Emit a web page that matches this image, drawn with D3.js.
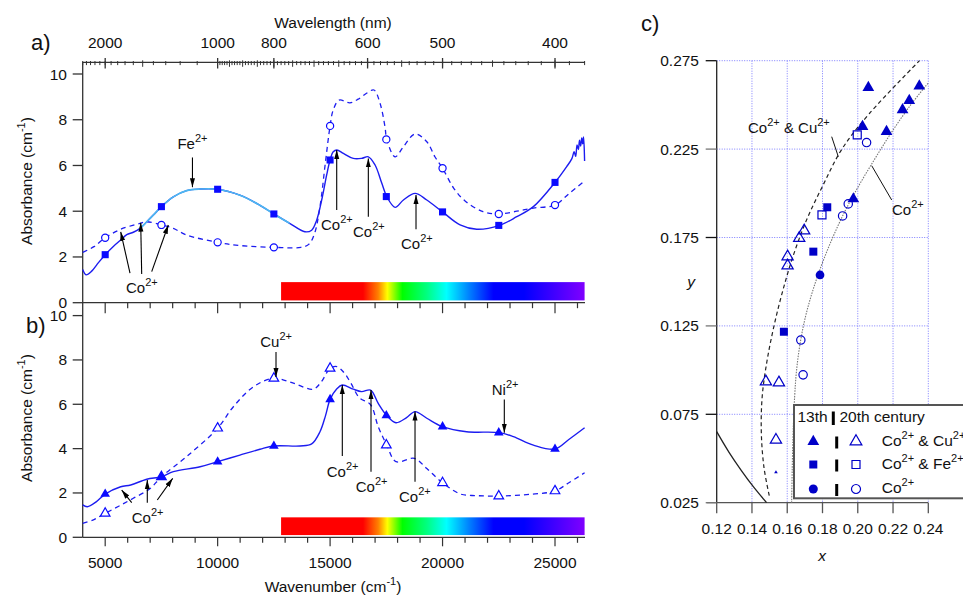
<!DOCTYPE html>
<html><head><meta charset="utf-8">
<script src="https://cdn.jsdelivr.net/npm/d3@7"></script>
<style>body{margin:0;background:#fff}svg{font-family:Arial,"Liberation Sans",sans-serif}</style>
</head><body><svg id="c" width="963" height="596"></svg>
<script>
// ---------------- DATA ----------------
// Panel a: 13th century (solid, filled squares)
const aSolidWn = [4000,4150,4400,4700,5000,5350,5690,5960,6250,6550,6850,7140,7500,8030,8620,9220,10000,10990,11880,12500,13220,13880,14180,14400,14650,14850,15000,15140,15300,15590,16030,16400,16700,17000,17300,17520,17890,18260,18780,19300,20000,20780,21520,22530,23300,24040,25000,25520,25750,25850,25920,25980,26040,26090,26140,26190,26230,26270,26316];
const aSolidA  = [1.45,1.22,1.38,1.75,2.10,2.45,2.74,2.98,3.08,3.25,3.54,3.83,4.20,4.63,4.90,4.97,4.96,4.70,4.26,3.88,3.46,3.10,3.17,3.60,4.60,5.60,6.24,6.60,6.68,6.53,6.31,6.31,6.38,6.02,5.22,4.64,4.17,4.49,4.78,4.49,3.97,3.40,3.21,3.38,3.76,4.20,5.26,5.95,6.30,6.60,6.40,6.90,6.70,7.10,6.85,7.20,6.95,7.25,6.20];
// Panel a: 20th century (dashed, open circles)
const aDashWn = [4000,4500,5000,5690,6550,6850,7500,8030,8620,10000,11000,12500,13700,14050,14300,14550,14800,15000,15140,15400,15880,16250,16620,16950,17220,17440,17520,17890,18260,18780,19300,19660,20000,20500,21000,21800,22500,23300,24040,25000,25600,26316];
const aDashA  = [2.20,2.45,2.84,3.21,3.47,3.54,3.40,3.25,2.96,2.64,2.50,2.42,2.42,2.55,3.00,4.20,6.20,7.73,8.43,8.86,8.74,8.90,9.16,9.30,8.72,7.70,7.14,6.38,6.82,7.38,7.04,6.38,5.88,5.00,4.45,3.98,3.88,4.00,4.14,4.27,4.75,5.33];
// marker positions (panel a and b)
const markerWn   = [5000,7500,10000,12500,15000,17500,20000,22500,25000];
const aSquareA   = [2.10,4.20,4.96,3.88,6.24,4.64,3.97,3.38,5.26];
const aCircleA   = [2.84,3.40,2.64,2.42,7.73,7.14,5.88,3.88,4.27];
// Panel b: 13th century (solid, filled triangles)
const bSolidWn = [4000,4205,4600,5000,5690,6135,6850,7500,8030,9220,10000,10990,11880,12500,13660,14180,14550,14800,15000,15300,15540,16030,16400,16800,17140,17520,17930,18400,18780,19300,20000,21070,22530,23150,24040,25000,25600,26316];
const bSolidA  = [1.46,1.38,1.60,1.95,2.28,2.36,2.62,2.73,2.96,3.18,3.41,3.71,3.97,4.12,4.12,4.21,4.76,5.50,6.22,6.70,6.87,6.68,6.57,6.64,6.04,5.49,5.17,5.40,5.67,5.37,4.99,4.76,4.72,4.54,4.16,3.98,4.40,4.94];
// Panel b: 20th century (dashed, open triangles)
const bDashWn = [4000,4500,5000,5600,6250,7000,7500,8620,10000,10700,11590,12480,13370,14250,14600,15000,15300,15600,15900,16300,16800,17140,17520,17930,18750,19300,20000,20800,21500,22500,24000,25000,25600,26316];
const bDashA  = [0.63,0.80,1.08,1.40,1.76,2.20,2.73,3.64,4.92,5.89,6.79,7.17,6.95,6.68,7.00,7.62,7.70,7.45,7.00,6.30,5.98,4.99,4.16,3.41,3.56,3.10,2.46,1.95,1.88,1.86,1.95,2.09,2.45,2.91];
const bTriA      = [1.95,2.73,3.41,4.12,6.22,5.49,4.99,4.72,3.98];
const bOpenTriA  = [1.08,2.73,4.92,7.17,7.62,4.16,2.46,1.86,2.09];
// Axis tick labels
const bottomTicks = [5000,10000,15000,20000,25000];
const topTickNm   = [2000,1000,800,600,500,400];
const yTicks      = [0,2,4,6,8,10];
const colorBarNm  = [780,380];
// Panel c
const cXTicks = [0.12,0.14,0.16,0.18,0.20,0.22,0.24];
const cYTicks = [0.025,0.075,0.125,0.175,0.225,0.275];
const locusX = [0.12,0.127,0.134,0.141,0.1483];
const locusY = [0.0652,0.0535,0.0432,0.0338,0.025];
const cuFitX = [0.1498,0.1468,0.1453,0.1458,0.1485,0.1525,0.1575,0.1635,0.1710,0.1805,0.1910,0.2065,0.2350];
const cuFitY = [0.029,0.045,0.065,0.085,0.105,0.125,0.145,0.165,0.185,0.205,0.225,0.245,0.275];
const coFitX = [0.1625,0.1632,0.1642,0.1653,0.1673,0.1703,0.1745,0.1797,0.1858,0.1928,0.2010,0.2100,0.2195,0.2300,0.2400];
const coFitY = [0.025,0.060,0.085,0.100,0.115,0.130,0.145,0.160,0.175,0.190,0.205,0.220,0.235,0.250,0.2624];
const filledTriX = [0.2060,0.2027,0.2163,0.2254,0.2292,0.2349,0.1975];
const filledTriY = [0.2598,0.2377,0.2349,0.2472,0.2524,0.2607,0.1968];
const tinyTriX = [0.1536], tinyTriY = [0.0422];
const openTriX = [0.1479,0.1553,0.1602,0.1602,0.1668,0.1696,0.1536];
const openTriY = [0.0935,0.0929,0.1642,0.1591,0.1746,0.1789,0.0605];
const filledSqX = [0.1581,0.1748,0.1827];
const filledSqY = [0.1217,0.1670,0.1921];
const openSqX = [0.1797,0.1997];
const openSqY = [0.1878,0.2330];
const filledCircX = [0.1786];
const filledCircY = [0.1538];
const openCircX = [0.2050,0.1946,0.1914,0.1677,0.1690];
const openCircY = [0.2287,0.1940,0.1872,0.1170,0.0973];
const legendLabels = [["Co","2+"," & Cu","2+"],["Co","2+"," & Fe","2+"],["Co","2+"]];

// ---------------- DRAW ----------------
const svg = d3.select('#c');
const defs = svg.append('defs');
const BLUE = '#1c1cf0', LIGHT = '#4db8f0', MARK = '#0a0aff', CBLUE = '#0000c8';
const zip = (a,b) => a.map((v,i)=>[v,b[i]]);

const grad = defs.append('linearGradient').attr('id','spec').attr('x1','0%').attr('x2','100%').attr('y1','0%').attr('y2','0%');
[[0,'#ff0000'],[0.27,'#ff0000'],[0.32,'#ff8000'],[0.35,'#ffff00'],[0.40,'#00ff00'],[0.48,'#00ff80'],[0.545,'#00ffff'],[0.62,'#0080ff'],[0.70,'#0000ff'],[0.80,'#0000ff'],[1,'#8000ff']]
  .forEach(([o,c])=>grad.append('stop').attr('offset',o).attr('stop-color',c));
defs.append('marker').attr('id','ah').attr('viewBox','0 0 10 10').attr('refX',10).attr('refY',5)
  .attr('markerWidth',9).attr('markerHeight',9).attr('markerUnits','userSpaceOnUse').attr('orient','auto')
  .append('path').attr('d','M0,2.2L10,5L0,7.8Z').attr('fill','#000');

function rich(g, x, y, parts, size, anchor){
  const t = g.append('text').attr('x',x).attr('y',y).attr('font-size',size||15).attr('fill','#111');
  if(anchor) t.attr('text-anchor',anchor);
  parts.forEach((s,i)=>{
    const sup = i%2===1;
    const ts = t.append('tspan').text(s);
    if(sup) ts.attr('dy',-7).attr('font-size',11);
    else if(i>0) ts.attr('dy',7);
  });
  return t;
}

const xW = d3.scaleLinear().domain([4000,26316]).range([82.7,584.6]);
const yA = d3.scaleLinear().domain([0,10]).range([302.7,74]);
const yB = d3.scaleLinear().domain([0,10]).range([537.3,315.6]);
const AX = '#333';

// color bars
[[yA],[yB]].forEach(([ys])=>{
  svg.append('rect').attr('x',xW(1e7/colorBarNm[0])).attr('width',xW(1e7/colorBarNm[1])-xW(1e7/colorBarNm[0]))
    .attr('y',ys(0.9)).attr('height',ys(0.1)-ys(0.9)).attr('fill','url(#spec)');
});

// axes lines
svg.append('line').attr('x1',82.7).attr('x2',82.7).attr('y1',62.3).attr('y2',537.3).attr('stroke',AX).attr('stroke-width',1.3);
[62.3,302.7,537.3].forEach(y=>svg.append('line').attr('x1',82.7).attr('x2',585).attr('y1',y).attr('y2',y).attr('stroke',AX).attr('stroke-width',1.3));

// y ticks
[[yA],[yB]].forEach(([ys])=>{
  yTicks.forEach(v=>{
    svg.append('line').attr('x1',72.7).attr('x2',82.7).attr('y1',ys(v)).attr('y2',ys(v)).attr('stroke',AX).attr('stroke-width',1.3);
    svg.append('text').attr('x',67).attr('y',ys(v)+5.5).attr('text-anchor','end').attr('font-size',15.5).attr('fill','#111').text(v);
  });
});

// bottom & middle ticks
for(let w=5000; w<=26000; w+=1000){
  const major = w%5000===0;
  svg.append('line').attr('x1',xW(w)).attr('x2',xW(w)).attr('y1',302.7).attr('y2',302.7+(major?10.5:5.5)).attr('stroke',AX).attr('stroke-width',1.2);
  svg.append('line').attr('x1',xW(w)).attr('x2',xW(w)).attr('y1',537.3).attr('y2',537.3+(major?9:5.5)).attr('stroke',AX).attr('stroke-width',1.2);
}
bottomTicks.forEach(w=>svg.append('text').attr('x',xW(w)).attr('y',568).attr('text-anchor','middle').attr('font-size',15.5).attr('fill','#111').text(w));
rich(svg, 333, 592, ['Wavenumber (cm','-1',')'], 15.5, 'middle');

// top wavelength axis
const topMinor = [];
for(let nm=2500; nm>1000; nm-=100) topMinor.push(nm);
for(let nm=990; nm>=380; nm-=10) topMinor.push(nm);
topMinor.forEach(nm=>{
  const x = xW(1e7/nm);
  const mid = (nm<=1000 && nm%50===0) || nm===1500;
  svg.append('line').attr('x1',x).attr('x2',x).attr('y1',62.3-(mid?2:1.3)).attr('y2',62.3+(mid?4.5:2.8)).attr('stroke',AX).attr('stroke-width',1);
});
topTickNm.forEach(nm=>{
  const x = xW(1e7/nm);
  svg.append('line').attr('x1',x).attr('x2',x).attr('y1',58).attr('y2',68.5).attr('stroke',AX).attr('stroke-width',1.3);
  svg.append('text').attr('x',x).attr('y',48).attr('text-anchor','middle').attr('font-size',15.5).attr('fill','#111').text(nm);
});
svg.append('text').attr('x',333).attr('y',28).attr('text-anchor','middle').attr('font-size',15.5).attr('fill','#111').text('Wavelength (nm)');

// y labels
[[181,'a'],[418,'b']].forEach(([cy])=>{
  const g = svg.append('g').attr('transform',`translate(32,${cy}) rotate(-90)`);
  rich(g, 0, 0, ['Absorbance (cm','-1',')'], 15.5, 'middle');
});
svg.append('text').attr('x',31).attr('y',50).attr('font-size',22).attr('fill','#111').text('a)');
svg.append('text').attr('x',26).attr('y',333).attr('font-size',22).attr('fill','#111').text('b)');

// curves
const mkLine = ys => d3.line().x(d=>xW(d[0])).y(d=>ys(d[1])).curve(d3.curveCatmullRom.alpha(0.5));
svg.append('path').attr('d',mkLine(yA)(zip(aDashWn,aDashA))).attr('fill','none').attr('stroke',BLUE).attr('stroke-width',1.3).attr('stroke-dasharray','5,4');
svg.append('path').attr('d',mkLine(yA)(zip(aSolidWn,aSolidA))).attr('fill','none').attr('stroke',BLUE).attr('stroke-width',1.4);
defs.append('clipPath').attr('id','feclip').append('rect').attr('x',xW(6500)).attr('width',xW(13200)-xW(6500)).attr('y',60).attr('height',240);
svg.append('path').attr('d',mkLine(yA)(zip(aSolidWn,aSolidA))).attr('fill','none').attr('stroke',LIGHT).attr('stroke-width',1.6).attr('clip-path','url(#feclip)');
svg.append('path').attr('d',mkLine(yB)(zip(bDashWn,bDashA))).attr('fill','none').attr('stroke',BLUE).attr('stroke-width',1.3).attr('stroke-dasharray','5,4');
svg.append('path').attr('d',mkLine(yB)(zip(bSolidWn,bSolidA))).attr('fill','none').attr('stroke',BLUE).attr('stroke-width',1.4);

// markers a, b
const sq = d3.symbol().type(d3.symbolSquare).size(50);
const ci = d3.symbol().type(d3.symbolCircle).size(40);
const tr = d3.symbol().type(d3.symbolTriangle).size(40);
markerWn.forEach((w,i)=>{
  svg.append('path').attr('d',ci()).attr('transform',`translate(${xW(w)},${yA(aCircleA[i])})`).attr('fill','#fff').attr('stroke',MARK).attr('stroke-width',1.2);
  svg.append('path').attr('d',sq()).attr('transform',`translate(${xW(w)},${yA(aSquareA[i])})`).attr('fill',MARK);
  svg.append('path').attr('d',tr()).attr('transform',`translate(${xW(w)},${yB(bOpenTriA[i])})`).attr('fill','#fff').attr('stroke',MARK).attr('stroke-width',1.2);
  svg.append('path').attr('d',tr()).attr('transform',`translate(${xW(w)},${yB(bTriA[i])})`).attr('fill',MARK);
});

// annotations
function arrow(ys, w1, a1, w2, a2){
  svg.append('line').attr('x1',xW(w1)).attr('y1',ys(a1)).attr('x2',xW(w2)).attr('y2',ys(a2))
    .attr('stroke','#000').attr('stroke-width',1.1).attr('marker-end','url(#ah)');
}
const CO = ['Co','2+'];
// panel a
rich(svg, xW(8880), yA(6.72), ['Fe','2+'], 15, 'middle');
arrow(yA, 8880, 6.35, 8880, 5.05);
rich(svg, xW(5925), yA(0.42), CO);
arrow(yA, 6103, 1.29, 5690, 3.10);
arrow(yA, 6623, 1.25, 6579, 3.50);
arrow(yA, 7068, 1.36, 7806, 3.40);
rich(svg, xW(14596), yA(3.18), CO); arrow(yA, 15294, 4.05, 15294, 6.68);
rich(svg, xW(16019), yA(2.89), CO); arrow(yA, 16700, 3.76, 16700, 6.31);
rich(svg, xW(18153), yA(2.35), CO); arrow(yA, 18820, 3.21, 18820, 4.71);
// panel b
rich(svg, xW(11896), yB(8.60), ['Cu','2+']); arrow(yB, 12595, 8.36, 12595, 7.23);
rich(svg, xW(22186), yB(6.42), ['Ni','2+']); arrow(yB, 22746, 6.22, 22746, 4.72);
rich(svg, xW(14849), yB(2.73), CO); arrow(yB, 15543, 3.67, 15543, 6.87);
rich(svg, xW(16139), yB(2.06), CO); arrow(yB, 16819, 2.96, 16819, 6.64);
rich(svg, xW(18064), yB(1.61), CO); arrow(yB, 18776, 2.51, 18776, 5.67);
rich(svg, xW(6179), yB(0.66), CO);
arrow(yB, 6179, 1.56, 5734, 2.13);
arrow(yB, 6872, 1.56, 6872, 2.58);
arrow(yB, 7317, 1.68, 8002, 2.66);

// ---------------- PANEL C ----------------
const xC = d3.scaleLinear().domain([0.12,0.24]).range([716.7,928.3]);
const yC = d3.scaleLinear().domain([0.025,0.275]).range([502.7,60.7]);
const GRID = '#7d7dff';
cXTicks.slice(1).forEach(v=>svg.append('line').attr('x1',xC(v)).attr('x2',xC(v)).attr('y1',yC(0.275)).attr('y2',yC(0.025)).attr('stroke',GRID).attr('stroke-width',1).attr('stroke-dasharray','1,1.5'));
cYTicks.slice(1).forEach(v=>svg.append('line').attr('x1',xC(0.12)).attr('x2',xC(0.24)).attr('y1',yC(v)).attr('y2',yC(v)).attr('stroke',GRID).attr('stroke-width',1).attr('stroke-dasharray','1,1.5'));
svg.append('line').attr('x1',xC(0.12)).attr('x2',xC(0.12)).attr('y1',yC(0.275)).attr('y2',yC(0.025)).attr('stroke','#222').attr('stroke-width',1.3);
svg.append('line').attr('x1',xC(0.12)-10).attr('x2',xC(0.24)).attr('y1',yC(0.025)).attr('y2',yC(0.025)).attr('stroke','#555').attr('stroke-width',1.3);
cYTicks.forEach((v,i)=>{
  svg.append('line').attr('x1',xC(0.12)-11).attr('x2',xC(0.12)).attr('y1',yC(v)).attr('y2',yC(v)).attr('stroke',i%2===0?'#777':'#111').attr('stroke-width',1.3);
  svg.append('text').attr('x',699).attr('y',yC(v)+5.5).attr('text-anchor','end').attr('font-size',15.5).attr('fill','#111').text(v.toFixed(3));
});
cXTicks.forEach(v=>{
  svg.append('line').attr('x1',xC(v)).attr('x2',xC(v)).attr('y1',yC(0.025)).attr('y2',yC(0.025)+10.5).attr('stroke','#555').attr('stroke-width',1.3);
  svg.append('text').attr('x',xC(v)).attr('y',534).attr('text-anchor','middle').attr('font-size',15.5).attr('fill','#111').text(v.toFixed(2));
});
svg.append('text').attr('x',822).attr('y',561).attr('text-anchor','middle').attr('font-size',15.5).attr('font-style','italic').attr('fill','#111').text('x');
svg.append('text').attr('x',691).attr('y',287).attr('text-anchor','middle').attr('font-size',15.5).attr('font-style','italic').attr('fill','#111').text('y');
svg.append('text').attr('x',641).attr('y',31).attr('font-size',22).attr('fill','#111').text('c)');

const lineC = d3.line().x(d=>xC(d[0])).y(d=>yC(d[1])).curve(d3.curveCatmullRom.alpha(0.5));
svg.append('path').attr('d',lineC(zip(locusX,locusY))).attr('fill','none').attr('stroke','#222').attr('stroke-width',1.3);
svg.append('path').attr('d',lineC(zip(cuFitX,cuFitY))).attr('fill','none').attr('stroke','#222').attr('stroke-width',1.2).attr('stroke-dasharray','4,3');
svg.append('path').attr('d',lineC(zip(coFitX,coFitY))).attr('fill','none').attr('stroke','#777').attr('stroke-width',1.1).attr('stroke-dasharray','1.5,1.2');

const symC = (type,size)=>d3.symbol().type(type).size(size)();
function plotC(xs, ys, type, size, filled){
  xs.forEach((x,i)=>{
    const p = svg.append('path').attr('d',symC(type,size)).attr('transform',`translate(${xC(x)},${yC(ys[i])})`);
    if(filled) p.attr('fill',CBLUE); else p.attr('fill','none').attr('stroke',CBLUE).attr('stroke-width',1.2);
  });
}
plotC(openTriX, openTriY, d3.symbolTriangle, 55, false);
plotC(openSqX, openSqY, d3.symbolSquare, 64, false);
plotC(openCircX, openCircY, d3.symbolCircle, 55, false);
plotC(filledTriX, filledTriY, d3.symbolTriangle, 60, true);
plotC(tinyTriX, tinyTriY, d3.symbolTriangle, 6, true);
plotC(filledSqX, filledSqY, d3.symbolSquare, 64, true);
plotC(filledCircX, filledCircY, d3.symbolCircle, 60, true);

// curve labels
rich(svg, 748, 133, ['Co','2+',' & Cu','2+']);
svg.append('line').attr('x1',831.7).attr('y1',136.7).attr('x2',838.3).attr('y2',156.7).attr('stroke','#111').attr('stroke-width',1);
rich(svg, 892, 215, CO);
svg.append('line').attr('x1',871.7).attr('y1',165.7).attr('x2',891.7).attr('y2',200).attr('stroke','#111').attr('stroke-width',1);

// legend
const lg = svg.append('g');
lg.append('rect').attr('x',794).attr('y',405).attr('width',180).attr('height',93.3).attr('fill','#fff').attr('stroke','#555').attr('stroke-width',2);
lg.append('text').attr('x',797.5).attr('y',422).attr('font-size',15.5).attr('fill','#111').text('13th');
lg.append('line').attr('x1',833.3).attr('x2',833.3).attr('y1',411.5).attr('y2',425).attr('stroke','#000').attr('stroke-width',3);
lg.append('text').attr('x',839.5).attr('y',422).attr('font-size',15.5).attr('fill','#111').text('20th century');
const legTypes = [d3.symbolTriangle, d3.symbolSquare, d3.symbolCircle];
const legY = [441.5, 464.5, 489];
legTypes.forEach((t,i)=>{
  const y = legY[i];
  lg.append('path').attr('d',symC(t,i===0?60:64)).attr('transform',`translate(813.3,${y})`).attr('fill',CBLUE);
  lg.append('line').attr('x1',836.7).attr('x2',836.7).attr('y1',y-5).attr('y2',y+7).attr('stroke','#000').attr('stroke-width',3);
  lg.append('path').attr('d',symC(t,i===0?60:64)).attr('transform',`translate(856,${y})`).attr('fill','none').attr('stroke',CBLUE).attr('stroke-width',1.2);
  rich(lg, 881.7, y+4, legendLabels[i], 15.5);
});
</script></body></html>
